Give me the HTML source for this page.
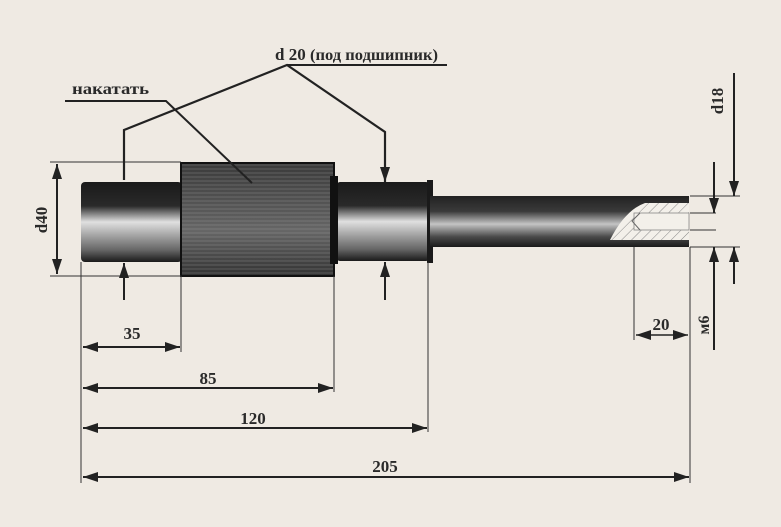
<!DOCTYPE html>
<html><head><meta charset="utf-8"><style>
html,body{margin:0;padding:0;background:#efeae3;}
svg{display:block}
text{font-family:"Liberation Serif","DejaVu Serif",serif;font-weight:bold;fill:#2a2a2a}
</style></head><body>
<svg width="781" height="527" viewBox="0 0 781 527" xmlns="http://www.w3.org/2000/svg">
<defs>
<marker id="a" viewBox="0 0 15 10" refX="15" refY="5" markerWidth="15" markerHeight="10" orient="auto-start-reverse" markerUnits="userSpaceOnUse"><path d="M0,0 L15,5 L0,10 Z" fill="#222"/></marker>
<linearGradient id="g1" x1="0" y1="0" x2="0" y2="1">
<stop offset="0" stop-color="#1a1a1a"/><stop offset="0.3" stop-color="#2a2a2a"/><stop offset="0.5" stop-color="#e0e0e0"/><stop offset="0.7" stop-color="#999"/><stop offset="0.85" stop-color="#666"/><stop offset="1" stop-color="#1a1a1a"/></linearGradient>
<linearGradient id="g2" x1="0" y1="0" x2="0" y2="1">
<stop offset="0" stop-color="#222"/><stop offset="0.3" stop-color="#3a3a3a"/><stop offset="0.55" stop-color="#c4c4c4"/><stop offset="0.8" stop-color="#4a4a4a"/><stop offset="1" stop-color="#1a1a1a"/></linearGradient>
<linearGradient id="g3" x1="0" y1="0" x2="0" y2="1">
<stop offset="0" stop-color="#3a3a3a"/><stop offset="0.45" stop-color="#5a5a5a"/><stop offset="0.6" stop-color="#666"/><stop offset="1" stop-color="#333"/></linearGradient>
<pattern id="h" width="7" height="7" patternUnits="userSpaceOnUse" patternTransform="rotate(45)"><rect width="7" height="7" fill="#f3f0ea"/><line x1="0" y1="0" x2="0" y2="7" stroke="#888" stroke-width="1"/></pattern>
<pattern id="k" width="4" height="4" patternUnits="userSpaceOnUse"><line x1="0" y1="1" x2="4" y2="1" stroke="#aaa" stroke-width="0.6"/></pattern>
</defs>

<rect x="81" y="182" width="101" height="80" rx="4" fill="url(#g1)"/>
<rect x="337" y="182" width="92" height="79" rx="3" fill="url(#g1)"/>
<rect x="427" y="180" width="6" height="83" fill="#1a1a1a"/>
<rect x="430" y="196" width="259" height="51" fill="url(#g2)"/>
<rect x="181" y="163" width="153" height="113" fill="url(#g3)"/>
<rect x="181" y="163" width="153" height="113" fill="url(#k)" opacity="0.5"/>
<rect x="181" y="163" width="153" height="113" fill="none" stroke="#111" stroke-width="2"/>
<rect x="330" y="176" width="8" height="88" fill="#111"/>
<path d="M689,203 L645,203 Q625,210 610,240 L689,240 Z" fill="url(#h)"/>
<rect x="634" y="213" width="55" height="17" fill="#f3f0ea" stroke="#888" stroke-width="0.8"/>
<path d="M640,213 L632,221 L640,230" fill="none" stroke="#666"/>

<g stroke="#333" stroke-width="1" fill="none">
<line x1="50" y1="162" x2="181" y2="162"/>
<line x1="50" y1="276" x2="181" y2="276"/>
<line x1="81" y1="262" x2="81" y2="483"/>
<line x1="181" y1="276" x2="181" y2="352"/>
<line x1="334" y1="276" x2="334" y2="392"/>
<line x1="428" y1="262" x2="428" y2="432"/>
<line x1="690" y1="247" x2="690" y2="483"/>
<line x1="634" y1="247" x2="634" y2="340"/>
<line x1="690" y1="196" x2="740" y2="196"/>
<line x1="690" y1="247" x2="740" y2="247"/>
<line x1="690" y1="213" x2="716" y2="213"/>
<line x1="690" y1="230" x2="716" y2="230"/>
</g>
<g stroke="#222" stroke-width="2" fill="none">
<line x1="57" y1="164" x2="57" y2="274" marker-start="url(#a)" marker-end="url(#a)"/>
<line x1="83" y1="347" x2="180" y2="347" marker-start="url(#a)" marker-end="url(#a)"/>
<line x1="83" y1="388" x2="333" y2="388" marker-start="url(#a)" marker-end="url(#a)"/>
<line x1="83" y1="428" x2="427" y2="428" marker-start="url(#a)" marker-end="url(#a)"/>
<line x1="83" y1="477" x2="689" y2="477" marker-start="url(#a)" marker-end="url(#a)"/>
<line x1="636" y1="335" x2="688" y2="335" stroke-width="1.5" marker-start="url(#a)" marker-end="url(#a)"/>
<line x1="734" y1="73" x2="734" y2="196" marker-end="url(#a)"/>
<line x1="734" y1="284" x2="734" y2="247" marker-end="url(#a)"/>
<line x1="714" y1="162" x2="714" y2="213" marker-end="url(#a)"/>
<line x1="714" y1="350" x2="714" y2="247" marker-end="url(#a)"/>
<polyline points="124,180 124,130 287,65 385,132 385,182" marker-end="url(#a)" stroke-width="2.2"/>
<line x1="124" y1="300" x2="124" y2="263" marker-end="url(#a)"/>
<line x1="385" y1="300" x2="385" y2="262" marker-end="url(#a)"/>
<polyline points="65,101 166,101 252,183" stroke-width="2"/>
<line x1="287" y1="65" x2="447" y2="65" stroke-width="2"/>
</g>

<text x="275" y="60" font-size="17">d 20 <tspan font-size="16" textLength="128" lengthAdjust="spacingAndGlyphs">(под подшипник)</tspan></text>
<text x="72" y="94" font-size="16" textLength="77" lengthAdjust="spacingAndGlyphs">накатать</text>
<text x="132" y="339" font-size="17" text-anchor="middle">35</text>
<text x="208" y="384" font-size="17" text-anchor="middle">85</text>
<text x="253" y="424" font-size="17" text-anchor="middle">120</text>
<text x="385" y="472" font-size="17" text-anchor="middle">205</text>
<text x="661" y="330" font-size="17" text-anchor="middle">20</text>
<text transform="translate(47,220) rotate(-90)" font-size="17" text-anchor="middle">d40</text>
<text transform="translate(723,101) rotate(-90)" font-size="17" text-anchor="middle">d18</text>
<text transform="translate(709,325) rotate(-90)" font-size="16" text-anchor="middle">м6</text>
</svg>
</body></html>
